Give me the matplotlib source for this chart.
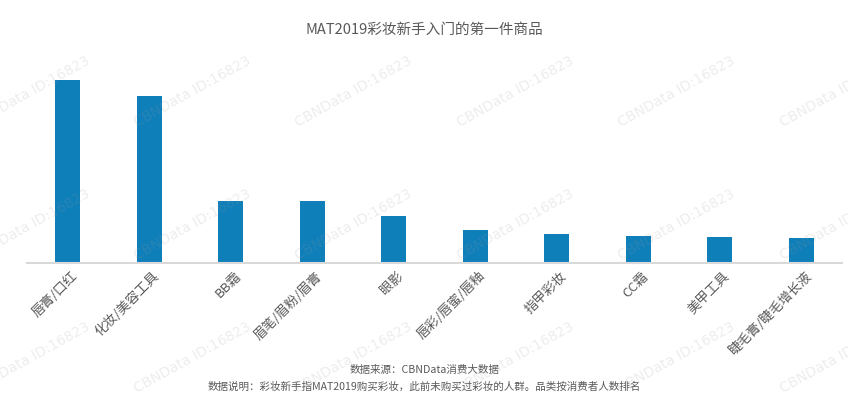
import matplotlib
matplotlib.use('Agg')
import matplotlib.pyplot as plt
import matplotlib.transforms as mtransforms
import numpy as np

plt.rcParams['font.family'] = ['Noto Sans CJK SC', 'DejaVu Sans']

# category names and relative consumer counts
categories = ['唇膏/口红', '化妆/美容工具', 'BB霜', '眉笔/眉粉/眉膏', '眼影',
              '唇彩/唇蜜/唇釉', '指甲彩妆', 'CC霜', '美甲工具', '睫毛膏/睫毛增长液']
values = [182.7, 167.0, 62.3, 61.7, 47.0, 32.7, 29.4, 26.7, 26.4, 25.0]

title = 'MAT2019彩妆新手入门的第一件商品'
source = '数据来源：CBNData消费大数据'
note = '数据说明：彩妆新手指MAT2019购买彩妆，此前未购买过彩妆的人群。品类按消费者人数排名'
watermark = 'CBNData ID:16823'

BAR_COLOR = '#0f7fba'
TEXT_COLOR = '#595959'

W, H = 848, 398
fig = plt.figure(figsize=(W / 100, H / 100), dpi=100)

# axes placed in pixel terms: x 27..842, baseline at y=263, top at y=60
ax = fig.add_axes([27 / W, (H - 263) / H, (842 - 27) / W, (263 - 60) / H])
x = np.arange(len(categories))
ax.bar(x, values, width=0.31, color=BAR_COLOR, zorder=2)
ax.set_xlim(-0.5, len(categories) - 0.5)
ax.set_ylim(0, 203)

for s in ['top', 'right', 'left']:
    ax.spines[s].set_visible(False)
ax.spines['bottom'].set_color('#d9d9d9')
ax.spines['bottom'].set_linewidth(1.5)
ax.set_yticks([])
ax.set_xticks(x)
ax.set_xticklabels(categories, rotation=45, ha='right', va='center',
                   rotation_mode='anchor', fontsize=9.5, color=TEXT_COLOR)
ax.tick_params(axis='x', length=0, pad=8)
# nudge labels a little to the right, like the original
shift = mtransforms.ScaledTranslation(8 / 100, 0, fig.dpi_scale_trans)
for lbl in ax.get_xticklabels():
    lbl.set_transform(lbl.get_transform() + shift)

fig.text(0.5, 1 - 30 / H, title, ha='center', va='center', fontsize=10.5, color=TEXT_COLOR)
fig.text(0.5, 1 - 370 / H, source, ha='center', va='center', fontsize=7.6, color=TEXT_COLOR)
fig.text(0.5, 1 - 387 / H, note, ha='center', va='center', fontsize=7.6, color=TEXT_COLOR)

# tiled watermark
for cy in [92, 225, 358]:
    for cx in [31, 192, 353, 515, 676, 838]:
        fig.text(cx / W, 1 - cy / H, watermark, ha='center', va='center',
                 rotation=29, fontsize=10, color='#999999', alpha=0.18,
                 family='DejaVu Sans', zorder=10)

fig.savefig('out.png', dpi=100)
